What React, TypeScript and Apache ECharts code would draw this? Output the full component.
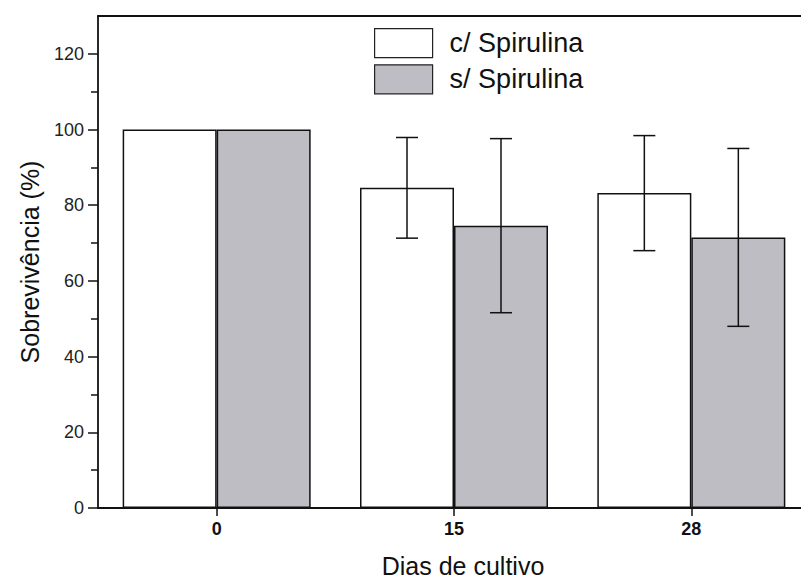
import React, { useEffect, useRef } from "react";
import * as echarts from "echarts";

const categories = ["0", "15", "28"];
const seriesNames = ["c/ Spirulina", "s/ Spirulina"];
const withSpirulina = [100, 84.6, 83.2];
const withSpirulinaErr = [0, 13.3, 15.2];
const withoutSpirulina = [100, 74.6, 71.5];
const withoutSpirulinaErr = [0, 23.0, 23.5];
const yMajorTicks = [0, 20, 40, 60, 80, 100, 120];
const yMinorTicks = [10, 30, 50, 70, 90, 110];

const BAR_W = 94;
const GRAY = "#bdbdc3";
const FONT = "'Liberation Sans', Arial, sans-serif";

export default function App() {
  const ref = useRef<HTMLDivElement>(null);
  useEffect(() => {
    if (!ref.current) return;
    const chart = echarts.init(ref.current, null, { renderer: "svg" });

    const errRender = (offset: number, errs: number[]) => (params: any, api: any) => {
      const i = api.value(0);
      const v = api.value(1);
      const e = errs[i];
      if (!e) return null;
      const top = api.coord([i, v + e]);
      const bot = api.coord([i, v - e]);
      const x = top[0] + offset;
      const cap = 11;
      const style = { stroke: "#111", lineWidth: 1.5 };
      return {
        type: "group",
        children: [
          { type: "line", shape: { x1: x, y1: top[1], x2: x, y2: bot[1] }, style },
          { type: "line", shape: { x1: x - cap, y1: top[1], x2: x + cap, y2: top[1] }, style },
          { type: "line", shape: { x1: x - cap, y1: bot[1], x2: x + cap, y2: bot[1] }, style },
        ],
      };
    };

    const axisLine = { show: true, onZero: false, lineStyle: { color: "#111", width: 1.8 } };
    const gridBox = {
      left: 98,
      top: 16,
      width: 712,
      height: 492,
      show: false,
      outerBoundsMode: "none",
      containLabel: false,
    };

    chart.setOption({
      animation: false,
      backgroundColor: "#fff",
      textStyle: { fontFamily: FONT },
      grid: [gridBox, { ...gridBox }],
      legend: {
        orient: "vertical",
        left: 374,
        top: 28,
        padding: 0,
        icon: "rect",
        itemWidth: 58,
        itemHeight: 29,
        itemGap: 6,
        data: seriesNames,
        itemStyle: { borderColor: "#222", borderWidth: 1.2 },
        textStyle: {
          fontSize: 27,
          color: "#111",
          fontFamily: FONT,
          padding: [0, 0, 0, 12],
        },
      },
      xAxis: [
        {
          type: "category",
          gridIndex: 0,
          data: categories,
          position: "bottom",
          axisLine,
          axisTick: { show: true, alignWithLabel: true, length: 8, lineStyle: { color: "#111", width: 1.5 } },
          axisLabel: { fontSize: 18, fontWeight: "bold", color: "#111", margin: 12, fontFamily: FONT },
          name: "Dias de cultivo",
          nameLocation: "middle",
          nameGap: 45,
          nameTextStyle: { fontSize: 25, color: "#111", fontFamily: FONT, padding: [0, 0, 0, 18] },
          splitLine: { show: false },
        },
        {
          type: "category",
          gridIndex: 0,
          data: categories,
          position: "top",
          axisLine,
          axisTick: { show: false },
          axisLabel: { show: false },
          splitLine: { show: false },
        },
        {
          type: "category",
          gridIndex: 1,
          data: categories,
          show: false,
        },
      ],
      yAxis: [
        {
          type: "value",
          gridIndex: 0,
          min: 0,
          max: 130,
          position: "left",
          axisLine,
          axisTick: {
            show: true,
            length: 10,
            customValues: yMajorTicks,
            lineStyle: { color: "#111", width: 1.5 },
          },
          axisLabel: {
            fontSize: 18,
            color: "#222",
            margin: 14,
            customValues: yMajorTicks,
            fontFamily: FONT,
          },
          splitLine: { show: false },
          name: "Sobrevivência (%)",
          nameLocation: "middle",
          nameGap: 56,
          nameTextStyle: { fontSize: 25, color: "#111", fontFamily: FONT },
        },
        {
          type: "value",
          gridIndex: 1,
          min: 0,
          max: 130,
          position: "left",
          axisLine: { show: false },
          axisTick: {
            show: true,
            length: 7,
            customValues: yMinorTicks,
            lineStyle: { color: "#111", width: 1.5 },
          },
          axisLabel: { show: false },
          splitLine: { show: false },
        },
      ],
      series: [
        {
          name: seriesNames[0],
          type: "bar",
          data: withSpirulina,
          barWidth: BAR_W,
          barGap: "0%",
          itemStyle: { color: "#ffffff", borderColor: "#111", borderWidth: 1.5 },
        },
        {
          name: seriesNames[1],
          type: "bar",
          data: withoutSpirulina,
          barWidth: BAR_W,
          barGap: "0%",
          itemStyle: { color: GRAY, borderColor: "#111", borderWidth: 1.5 },
        },
        {
          type: "custom",
          data: withSpirulina.map((v, i) => [i, v]),
          renderItem: errRender(-BAR_W / 2, withSpirulinaErr),
          z: 10,
        },
        {
          type: "custom",
          data: withoutSpirulina.map((v, i) => [i, v]),
          renderItem: errRender(BAR_W / 2, withoutSpirulinaErr),
          z: 10,
        },
      ],
    });
    return () => chart.dispose();
  }, []);
  return <div ref={ref} style={{ width: 801, height: 581, position: "absolute", left: 0, top: 0 }} />;
}
